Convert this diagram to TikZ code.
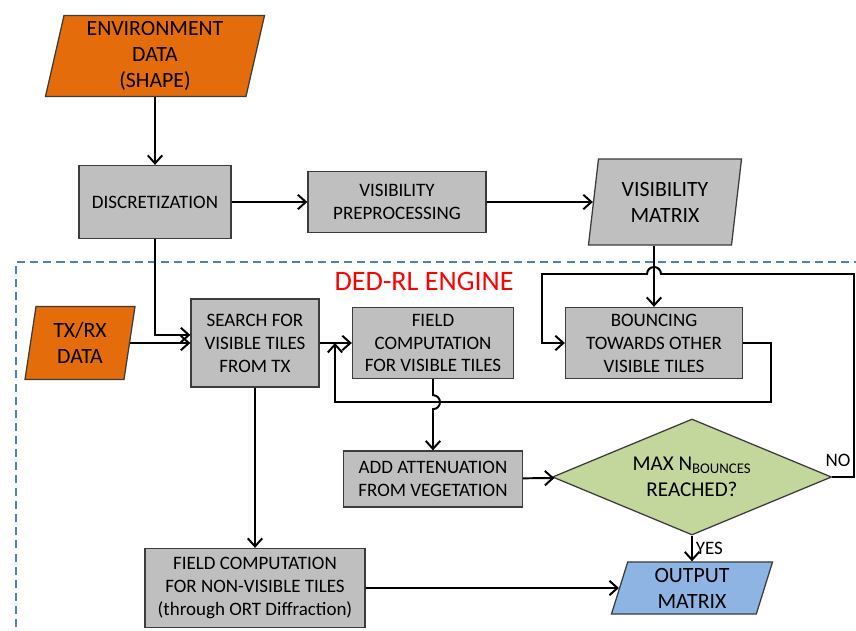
\documentclass[tikz,border=0pt]{standalone}
\usepackage{fontspec}
\setmainfont{Carlito}
\usetikzlibrary{shapes.geometric,arrows.meta,calc}

\definecolor{envorange}{RGB}{228,108,10}
\definecolor{boxgray}{RGB}{191,191,191}
\definecolor{decgreen}{RGB}{195,214,155}
\definecolor{outblue}{RGB}{141,180,226}
\definecolor{frameblue}{RGB}{79,129,189}
\definecolor{edgegray}{RGB}{60,60,60}

\tikzset{
  process/.style={draw=edgegray, fill=boxgray, line width=0.9pt, align=center,
    inner sep=1pt, font=\fontsize{13.5}{16.3}\selectfont},
  datablock/.style={trapezium, trapezium stretches body, draw=edgegray, line width=0.9pt,
    align=center, inner xsep=1pt, inner ysep=0pt, font=\fontsize{15.5}{18.5}\selectfont},
  decision/.style={diamond, draw=edgegray, fill=decgreen, line width=0.9pt, align=center,
    inner sep=0pt, font=\fontsize{15}{18.5}\selectfont},
  flow/.style={line width=1.4pt, -{Straight Barb[length=2mm,width=3.6mm]}},
  flowlabel/.style={font=\fontsize{13.5}{16}\selectfont, inner sep=2pt}
}

\begin{document}
\begin{tikzpicture}[x=0.025cm, y=-0.025cm]
    \useasboundingbox (0,0) rectangle (856,631);

    % Engine frame
    \draw[frameblue, line width=1.4pt, dash pattern=on 5.7pt off 3.6pt]
        (16,640) -- (16,262) -- (860,262);
    \node[text=red, font=\fontsize{20}{23}\selectfont] (engine) at (424,281) {DED-RL ENGINE};

    % Input and output data
    \node[datablock, fill=envorange, minimum width=5.475cm, minimum height=2.025cm,
        trapezium left angle=75, trapezium right angle=105] (env) at (155,56)
        {ENVIRONMENT\\DATA\\(SHAPE)};
    \node[datablock, fill=boxgray, minimum width=3.825cm, minimum height=2.15cm,
        trapezium left angle=76, trapezium right angle=104] (vismat) at (665,202)
        {VISIBILITY\\MATRIX};
    \node[datablock, fill=envorange, minimum width=2.75cm, minimum height=1.825cm,
        trapezium left angle=75, trapezium right angle=105] (txrx) at (80,343)
        {TX/RX\\DATA};
    \node[datablock, fill=outblue, minimum width=4.025cm, minimum height=1.3cm,
        trapezium left angle=68, trapezium right angle=112] (output) at (692,588)
        {OUTPUT\\MATRIX};

    % Processing steps
    \node[process, minimum width=3.8cm, minimum height=1.825cm] (disc) at (155,202) {DISCRETIZATION};
    \node[process, minimum width=4.45cm, minimum height=1.525cm] (prep) at (397,202)
        {VISIBILITY\\PREPROCESSING};
    \node[process, minimum width=3.2cm, minimum height=2.2cm] (search) at (255,343)
        {SEARCH FOR\\VISIBLE TILES\\FROM TX};
    \node[process, minimum width=4.025cm, minimum height=1.775cm] (field) at (433,343)
        {FIELD\\COMPUTATION\\FOR VISIBLE TILES};
    \node[process, minimum width=4.425cm, minimum height=1.775cm] (bounce) at (654,343)
        {BOUNCING\\TOWARDS OTHER\\VISIBLE TILES};
    \node[process, minimum width=4.475cm, minimum height=1.4cm] (atten) at (433,479)
        {ADD ATTENUATION\\FROM VEGETATION};
    \node[decision, minimum width=6.975cm, minimum height=2.9cm, aspect=2.4] (check) at (692,477)
        {MAX N\textsubscript{BOUNCES}\\REACHED?};
    \node[process, minimum width=5.5cm, minimum height=1.975cm] (nonvis) at (255,588)
        {FIELD COMPUTATION\\FOR NON-VISIBLE TILES\\(through ORT Diffraction)};

    % Loop corners
    \coordinate (merge) at (335,343);
    \coordinate (loopR) at (771,402);
    \coordinate (noR) at (854,274);
    \coordinate (noL) at (542,274);

    % Connectors
    \draw[flow] (env) -- (disc);
    \draw[flow] (disc) -- (prep);
    \draw[flow] (prep) -- (vismat);
    \draw[flow] (disc.south) |- ($(search.west)+(0,-8)$);
    \draw[flow] (txrx) -- (search);
    \draw[flow] (search) -- (field);
    \draw[flow] (bounce.north |- vismat.south) -- (bounce.north);
    \draw[flow] (bounce.east) -| (loopR) -| (merge);
    \draw[flow] (field.south) -- ++(0,16) arc (-90:90:7) -- (atten.north);
    \draw[flow] (atten) -- (check);
    \draw[flow] (check.east) -| (noR) -- ($(bounce.north |- noR)+(7,0)$) arc (0:-180:7)
        -- (noL) |- (bounce.west);
    \draw[flow] (check.south) -- node[flowlabel, right] (yes) {YES} (check.south |- output.north);
    \draw[flow] (search) -- (nonvis);
    \draw[flow] (nonvis) -- (output);

    % Branch label
    \node[flowlabel, anchor=south] (no) at (838,470) {NO};
\end{tikzpicture}
\end{document}
